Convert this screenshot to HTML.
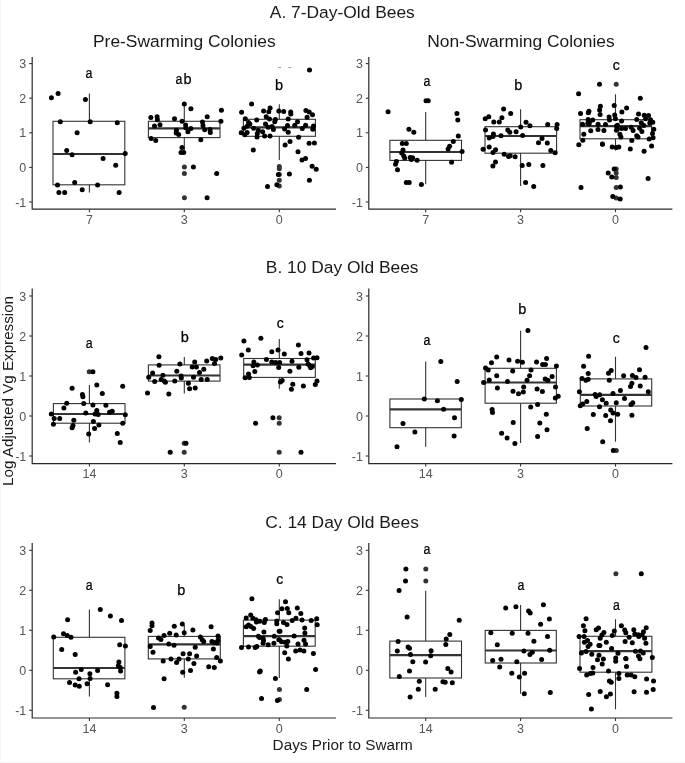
<!DOCTYPE html>
<html><head><meta charset="utf-8"><style>
html,body{margin:0;padding:0;background:#fff;overflow:hidden;width:685px;height:763px;}
svg{display:block;font-family:"Liberation Sans",sans-serif;}
svg{will-change:transform;}
</style></head><body>
<svg width="685" height="763" viewBox="0 0 685 763">
<rect x="0" y="0" width="685" height="763" fill="#fff"/>
<text x="269.8" y="18.4" font-size="17.4" text-anchor="start" fill="#1a1a1a" >A. 7-Day-Old Bees</text>
<text x="265.8" y="272.8" font-size="17.4" text-anchor="start" fill="#1a1a1a" >B. 10 Day Old Bees</text>
<text x="265.2" y="527.8" font-size="17.4" text-anchor="start" fill="#1a1a1a" >C. 14 Day Old Bees</text>
<text x="93" y="46.9" font-size="17.4" text-anchor="start" fill="#1a1a1a" >Pre-Swarming Colonies</text>
<text x="427.2" y="46.7" font-size="17.4" text-anchor="start" fill="#1a1a1a" >Non-Swarming Colonies</text>
<text x="272.6" y="750.2" font-size="15.3" text-anchor="start" fill="#1a1a1a" >Days Prior to Swarm</text>
<text transform="translate(13.0,485.9) rotate(-90)" font-size="15.2" fill="#1a1a1a">Log Adjusted Vg Expression</text>
<path d="M32.2 57V209.2H336" fill="none" stroke="#2a2a2a" stroke-width="1.2"/>
<path d="M29.200000000000003 63.6H32.2" stroke="#333" stroke-width="1.1"/>
<text x="26.300000000000004" y="68.1" font-size="12.5" text-anchor="end" fill="#555" >3</text>
<path d="M29.200000000000003 98.2H32.2" stroke="#333" stroke-width="1.1"/>
<text x="26.300000000000004" y="102.7" font-size="12.5" text-anchor="end" fill="#555" >2</text>
<path d="M29.200000000000003 132.8H32.2" stroke="#333" stroke-width="1.1"/>
<text x="26.300000000000004" y="137.3" font-size="12.5" text-anchor="end" fill="#555" >1</text>
<path d="M29.200000000000003 167.4H32.2" stroke="#333" stroke-width="1.1"/>
<text x="26.300000000000004" y="171.9" font-size="12.5" text-anchor="end" fill="#555" >0</text>
<path d="M29.200000000000003 202.0H32.2" stroke="#333" stroke-width="1.1"/>
<text x="26.300000000000004" y="206.5" font-size="12.5" text-anchor="end" fill="#555" >-1</text>
<path d="M89.4 209.2V212.2" stroke="#333" stroke-width="1.1"/>
<text x="89.4" y="224.0" font-size="12.5" text-anchor="middle" fill="#555" >7</text>
<path d="M184.3 209.2V212.2" stroke="#333" stroke-width="1.1"/>
<text x="184.3" y="224.0" font-size="12.5" text-anchor="middle" fill="#555" >3</text>
<path d="M279.3 209.2V212.2" stroke="#333" stroke-width="1.1"/>
<text x="279.3" y="224.0" font-size="12.5" text-anchor="middle" fill="#555" >0</text>
<path d="M368.8 57V209.2H672.4" fill="none" stroke="#2a2a2a" stroke-width="1.2"/>
<path d="M365.8 63.6H368.8" stroke="#333" stroke-width="1.1"/>
<text x="362.90000000000003" y="68.1" font-size="12.5" text-anchor="end" fill="#555" >3</text>
<path d="M365.8 98.2H368.8" stroke="#333" stroke-width="1.1"/>
<text x="362.90000000000003" y="102.7" font-size="12.5" text-anchor="end" fill="#555" >2</text>
<path d="M365.8 132.8H368.8" stroke="#333" stroke-width="1.1"/>
<text x="362.90000000000003" y="137.3" font-size="12.5" text-anchor="end" fill="#555" >1</text>
<path d="M365.8 167.4H368.8" stroke="#333" stroke-width="1.1"/>
<text x="362.90000000000003" y="171.9" font-size="12.5" text-anchor="end" fill="#555" >0</text>
<path d="M365.8 202.0H368.8" stroke="#333" stroke-width="1.1"/>
<text x="362.90000000000003" y="206.5" font-size="12.5" text-anchor="end" fill="#555" >-1</text>
<path d="M425.7 209.2V212.2" stroke="#333" stroke-width="1.1"/>
<text x="425.7" y="224.0" font-size="12.5" text-anchor="middle" fill="#555" >7</text>
<path d="M520.6 209.2V212.2" stroke="#333" stroke-width="1.1"/>
<text x="520.6" y="224.0" font-size="12.5" text-anchor="middle" fill="#555" >3</text>
<path d="M615.5 209.2V212.2" stroke="#333" stroke-width="1.1"/>
<text x="615.5" y="224.0" font-size="12.5" text-anchor="middle" fill="#555" >0</text>
<path d="M32.2 288.6V463.6H336" fill="none" stroke="#2a2a2a" stroke-width="1.2"/>
<path d="M29.200000000000003 296.0H32.2" stroke="#333" stroke-width="1.1"/>
<text x="26.300000000000004" y="300.5" font-size="12.5" text-anchor="end" fill="#555" >3</text>
<path d="M29.200000000000003 336.0H32.2" stroke="#333" stroke-width="1.1"/>
<text x="26.300000000000004" y="340.5" font-size="12.5" text-anchor="end" fill="#555" >2</text>
<path d="M29.200000000000003 376.0H32.2" stroke="#333" stroke-width="1.1"/>
<text x="26.300000000000004" y="380.5" font-size="12.5" text-anchor="end" fill="#555" >1</text>
<path d="M29.200000000000003 416.0H32.2" stroke="#333" stroke-width="1.1"/>
<text x="26.300000000000004" y="420.5" font-size="12.5" text-anchor="end" fill="#555" >0</text>
<path d="M29.200000000000003 456.0H32.2" stroke="#333" stroke-width="1.1"/>
<text x="26.300000000000004" y="460.5" font-size="12.5" text-anchor="end" fill="#555" >-1</text>
<path d="M89.4 463.6V466.6" stroke="#333" stroke-width="1.1"/>
<text x="89.4" y="478.40000000000003" font-size="12.5" text-anchor="middle" fill="#555" >14</text>
<path d="M184.3 463.6V466.6" stroke="#333" stroke-width="1.1"/>
<text x="184.3" y="478.40000000000003" font-size="12.5" text-anchor="middle" fill="#555" >3</text>
<path d="M279.3 463.6V466.6" stroke="#333" stroke-width="1.1"/>
<text x="279.3" y="478.40000000000003" font-size="12.5" text-anchor="middle" fill="#555" >0</text>
<path d="M368.8 288.6V463.6H672.4" fill="none" stroke="#2a2a2a" stroke-width="1.2"/>
<path d="M365.8 296.0H368.8" stroke="#333" stroke-width="1.1"/>
<text x="362.90000000000003" y="300.5" font-size="12.5" text-anchor="end" fill="#555" >3</text>
<path d="M365.8 336.0H368.8" stroke="#333" stroke-width="1.1"/>
<text x="362.90000000000003" y="340.5" font-size="12.5" text-anchor="end" fill="#555" >2</text>
<path d="M365.8 376.0H368.8" stroke="#333" stroke-width="1.1"/>
<text x="362.90000000000003" y="380.5" font-size="12.5" text-anchor="end" fill="#555" >1</text>
<path d="M365.8 416.0H368.8" stroke="#333" stroke-width="1.1"/>
<text x="362.90000000000003" y="420.5" font-size="12.5" text-anchor="end" fill="#555" >0</text>
<path d="M365.8 456.0H368.8" stroke="#333" stroke-width="1.1"/>
<text x="362.90000000000003" y="460.5" font-size="12.5" text-anchor="end" fill="#555" >-1</text>
<path d="M425.7 463.6V466.6" stroke="#333" stroke-width="1.1"/>
<text x="425.7" y="478.40000000000003" font-size="12.5" text-anchor="middle" fill="#555" >14</text>
<path d="M520.6 463.6V466.6" stroke="#333" stroke-width="1.1"/>
<text x="520.6" y="478.40000000000003" font-size="12.5" text-anchor="middle" fill="#555" >3</text>
<path d="M615.5 463.6V466.6" stroke="#333" stroke-width="1.1"/>
<text x="615.5" y="478.40000000000003" font-size="12.5" text-anchor="middle" fill="#555" >0</text>
<path d="M32.2 543V718H336" fill="none" stroke="#2a2a2a" stroke-width="1.2"/>
<path d="M29.200000000000003 550.3H32.2" stroke="#333" stroke-width="1.1"/>
<text x="26.300000000000004" y="554.8" font-size="12.5" text-anchor="end" fill="#555" >3</text>
<path d="M29.200000000000003 590.3H32.2" stroke="#333" stroke-width="1.1"/>
<text x="26.300000000000004" y="594.8" font-size="12.5" text-anchor="end" fill="#555" >2</text>
<path d="M29.200000000000003 630.3H32.2" stroke="#333" stroke-width="1.1"/>
<text x="26.300000000000004" y="634.8" font-size="12.5" text-anchor="end" fill="#555" >1</text>
<path d="M29.200000000000003 670.3H32.2" stroke="#333" stroke-width="1.1"/>
<text x="26.300000000000004" y="674.8" font-size="12.5" text-anchor="end" fill="#555" >0</text>
<path d="M29.200000000000003 710.3H32.2" stroke="#333" stroke-width="1.1"/>
<text x="26.300000000000004" y="714.8" font-size="12.5" text-anchor="end" fill="#555" >-1</text>
<path d="M89.4 718V721" stroke="#333" stroke-width="1.1"/>
<text x="89.4" y="732.8" font-size="12.5" text-anchor="middle" fill="#555" >14</text>
<path d="M184.3 718V721" stroke="#333" stroke-width="1.1"/>
<text x="184.3" y="732.8" font-size="12.5" text-anchor="middle" fill="#555" >3</text>
<path d="M279.3 718V721" stroke="#333" stroke-width="1.1"/>
<text x="279.3" y="732.8" font-size="12.5" text-anchor="middle" fill="#555" >0</text>
<path d="M368.8 543V718H672.4" fill="none" stroke="#2a2a2a" stroke-width="1.2"/>
<path d="M365.8 550.3H368.8" stroke="#333" stroke-width="1.1"/>
<text x="362.90000000000003" y="554.8" font-size="12.5" text-anchor="end" fill="#555" >3</text>
<path d="M365.8 590.3H368.8" stroke="#333" stroke-width="1.1"/>
<text x="362.90000000000003" y="594.8" font-size="12.5" text-anchor="end" fill="#555" >2</text>
<path d="M365.8 630.3H368.8" stroke="#333" stroke-width="1.1"/>
<text x="362.90000000000003" y="634.8" font-size="12.5" text-anchor="end" fill="#555" >1</text>
<path d="M365.8 670.3H368.8" stroke="#333" stroke-width="1.1"/>
<text x="362.90000000000003" y="674.8" font-size="12.5" text-anchor="end" fill="#555" >0</text>
<path d="M365.8 710.3H368.8" stroke="#333" stroke-width="1.1"/>
<text x="362.90000000000003" y="714.8" font-size="12.5" text-anchor="end" fill="#555" >-1</text>
<path d="M425.7 718V721" stroke="#333" stroke-width="1.1"/>
<text x="425.7" y="732.8" font-size="12.5" text-anchor="middle" fill="#555" >14</text>
<path d="M520.6 718V721" stroke="#333" stroke-width="1.1"/>
<text x="520.6" y="732.8" font-size="12.5" text-anchor="middle" fill="#555" >3</text>
<path d="M615.5 718V721" stroke="#333" stroke-width="1.1"/>
<text x="615.5" y="732.8" font-size="12.5" text-anchor="middle" fill="#555" >0</text>
<path d="M89.4 93.4V121.3M89.4 184.8V192.4" stroke="#333" stroke-width="1.1"/>
<rect x="53" y="121.3" width="71.8" height="63.500000000000014" fill="none" stroke="#333" stroke-width="1.1"/>
<path d="M53 154H124.8" stroke="#333" stroke-width="2.2"/>
<circle cx="51.4" cy="97.8" r="2.5" fill="#000"/>
<circle cx="58.1" cy="93.4" r="2.5" fill="#000"/>
<circle cx="85.4" cy="99.4" r="2.5" fill="#000"/>
<circle cx="60.3" cy="121.7" r="2.5" fill="#000"/>
<circle cx="90.2" cy="121.7" r="2.5" fill="#000"/>
<circle cx="117.3" cy="122.7" r="2.5" fill="#000"/>
<circle cx="77.1" cy="132.7" r="2.5" fill="#000"/>
<circle cx="66.7" cy="150.6" r="2.5" fill="#000"/>
<circle cx="72.1" cy="154.8" r="2.5" fill="#000"/>
<circle cx="125.2" cy="153.4" r="2.5" fill="#000"/>
<circle cx="103.1" cy="158.6" r="2.5" fill="#000"/>
<circle cx="115.7" cy="165.3" r="2.5" fill="#000"/>
<circle cx="57.5" cy="185" r="2.5" fill="#000"/>
<circle cx="74.7" cy="182.4" r="2.5" fill="#000"/>
<circle cx="97.6" cy="185" r="2.5" fill="#000"/>
<circle cx="58.9" cy="192.4" r="2.5" fill="#000"/>
<circle cx="64.7" cy="192.4" r="2.5" fill="#000"/>
<circle cx="82.2" cy="189.8" r="2.5" fill="#000"/>
<circle cx="119.1" cy="192.4" r="2.5" fill="#000"/>
<text transform="translate(89.00,78.4) scale(0.85,1)" font-size="14.5" text-anchor="middle" fill="#000" stroke="#000" stroke-width="0.25">a</text>
<path d="M184.3 103.8V121.3M184.3 137.6V150.6" stroke="#333" stroke-width="1.1"/>
<rect x="148.4" y="121.3" width="71.6" height="16.299999999999997" fill="none" stroke="#333" stroke-width="1.1"/>
<path d="M148.4 128.3H220" stroke="#333" stroke-width="2.2"/>
<circle cx="184.4" cy="166.9" r="2.5" fill="#333"/>
<circle cx="184.4" cy="173.5" r="2.5" fill="#333"/>
<circle cx="184.4" cy="197.8" r="2.5" fill="#333"/>
<circle cx="184.3" cy="103.9" r="2.5" fill="#000"/>
<circle cx="190.9" cy="108.8" r="2.5" fill="#000"/>
<circle cx="221.4" cy="110.2" r="2.5" fill="#000"/>
<circle cx="150.8" cy="117.6" r="2.5" fill="#000"/>
<circle cx="157.1" cy="116.7" r="2.5" fill="#000"/>
<circle cx="157.4" cy="119.7" r="2.5" fill="#000"/>
<circle cx="174.5" cy="118.7" r="2.5" fill="#000"/>
<circle cx="207.2" cy="116.7" r="2.5" fill="#000"/>
<circle cx="220.9" cy="121.3" r="2.5" fill="#000"/>
<circle cx="182.1" cy="121.3" r="2.5" fill="#000"/>
<circle cx="202.5" cy="121.9" r="2.5" fill="#000"/>
<circle cx="154.5" cy="126" r="2.5" fill="#000"/>
<circle cx="160" cy="124.7" r="2.5" fill="#000"/>
<circle cx="185.6" cy="125" r="2.5" fill="#000"/>
<circle cx="203" cy="125.5" r="2.5" fill="#000"/>
<circle cx="185.9" cy="127.8" r="2.5" fill="#000"/>
<circle cx="190.9" cy="128.5" r="2.5" fill="#000"/>
<circle cx="204.7" cy="129.8" r="2.5" fill="#000"/>
<circle cx="210" cy="129.4" r="2.5" fill="#000"/>
<circle cx="176.4" cy="130.2" r="2.5" fill="#000"/>
<circle cx="187.9" cy="131.8" r="2.5" fill="#000"/>
<circle cx="176.2" cy="133.1" r="2.5" fill="#000"/>
<circle cx="178.7" cy="134.4" r="2.5" fill="#000"/>
<circle cx="210.3" cy="132.4" r="2.5" fill="#000"/>
<circle cx="151.1" cy="138.6" r="2.5" fill="#000"/>
<circle cx="155.7" cy="140.6" r="2.5" fill="#000"/>
<circle cx="200.8" cy="139.7" r="2.5" fill="#000"/>
<circle cx="182" cy="147.6" r="2.5" fill="#000"/>
<circle cx="181" cy="152.4" r="2.5" fill="#000"/>
<circle cx="183.7" cy="152.4" r="2.5" fill="#000"/>
<circle cx="193.4" cy="166.9" r="2.5" fill="#000"/>
<circle cx="216.7" cy="173.5" r="2.5" fill="#000"/>
<circle cx="207.1" cy="197.8" r="2.5" fill="#000"/>
<text transform="translate(178.95,83.8) scale(0.85,1)" font-size="14.5" text-anchor="middle" fill="#000" stroke="#000" stroke-width="0.25">a</text>
<text transform="translate(187.50,83.8) scale(1.0,1)" font-size="14.5" text-anchor="middle" fill="#000" stroke="#000" stroke-width="0.25">b</text>
<path d="M279.3 104.2V119.3M279.3 136.3V160" stroke="#333" stroke-width="1.1"/>
<rect x="243.4" y="119.3" width="71.99999999999997" height="17.000000000000014" fill="none" stroke="#333" stroke-width="1.1"/>
<path d="M243.4 127.3H315.4" stroke="#333" stroke-width="2.2"/>
<circle cx="279.3" cy="166.5" r="2.5" fill="#333"/>
<circle cx="279.3" cy="168.7" r="2.5" fill="#333"/>
<circle cx="279.3" cy="174.5" r="2.5" fill="#333"/>
<circle cx="279.3" cy="180.3" r="2.5" fill="#333"/>
<circle cx="279.3" cy="186" r="2.5" fill="#333"/>
<circle cx="309.5" cy="69.9" r="2.5" fill="#000"/>
<circle cx="251.6" cy="104" r="2.5" fill="#000"/>
<circle cx="241.6" cy="112.3" r="2.5" fill="#000"/>
<circle cx="263.6" cy="111" r="2.5" fill="#000"/>
<circle cx="270.1" cy="108" r="2.5" fill="#000"/>
<circle cx="268.8" cy="111.8" r="2.5" fill="#000"/>
<circle cx="278.8" cy="111" r="2.5" fill="#000"/>
<circle cx="245.3" cy="118.7" r="2.5" fill="#000"/>
<circle cx="256.7" cy="120" r="2.5" fill="#000"/>
<circle cx="266.2" cy="116.7" r="2.5" fill="#000"/>
<circle cx="269.5" cy="119" r="2.5" fill="#000"/>
<circle cx="275.4" cy="119.4" r="2.5" fill="#000"/>
<circle cx="274.7" cy="121.7" r="2.5" fill="#000"/>
<circle cx="248.5" cy="122.6" r="2.5" fill="#000"/>
<circle cx="249.8" cy="124" r="2.5" fill="#000"/>
<circle cx="265.5" cy="124" r="2.5" fill="#000"/>
<circle cx="247.1" cy="126.3" r="2.5" fill="#000"/>
<circle cx="243.9" cy="128.2" r="2.5" fill="#000"/>
<circle cx="253.7" cy="128.2" r="2.5" fill="#000"/>
<circle cx="268.2" cy="127.2" r="2.5" fill="#000"/>
<circle cx="272.1" cy="126.6" r="2.5" fill="#000"/>
<circle cx="273.4" cy="129.5" r="2.5" fill="#000"/>
<circle cx="241.2" cy="132.8" r="2.5" fill="#000"/>
<circle cx="244.8" cy="134.8" r="2.5" fill="#000"/>
<circle cx="247.1" cy="132.5" r="2.5" fill="#000"/>
<circle cx="258.3" cy="130.2" r="2.5" fill="#000"/>
<circle cx="257.3" cy="133.5" r="2.5" fill="#000"/>
<circle cx="262.6" cy="131.8" r="2.5" fill="#000"/>
<circle cx="257" cy="137.1" r="2.5" fill="#000"/>
<circle cx="264.6" cy="136.1" r="2.5" fill="#000"/>
<circle cx="270" cy="136.1" r="2.5" fill="#000"/>
<circle cx="283.7" cy="111.5" r="2.5" fill="#000"/>
<circle cx="290.7" cy="112.1" r="2.5" fill="#000"/>
<circle cx="290.8" cy="114.1" r="2.5" fill="#000"/>
<circle cx="305.9" cy="110.5" r="2.5" fill="#000"/>
<circle cx="309.2" cy="112.1" r="2.5" fill="#000"/>
<circle cx="312.5" cy="114.8" r="2.5" fill="#000"/>
<circle cx="307.1" cy="117.2" r="2.5" fill="#000"/>
<circle cx="288.2" cy="118.9" r="2.5" fill="#000"/>
<circle cx="297.5" cy="121.7" r="2.5" fill="#000"/>
<circle cx="294.8" cy="125.3" r="2.5" fill="#000"/>
<circle cx="287.5" cy="125.6" r="2.5" fill="#000"/>
<circle cx="284.6" cy="128.9" r="2.5" fill="#000"/>
<circle cx="288.2" cy="132.2" r="2.5" fill="#000"/>
<circle cx="302.3" cy="128.6" r="2.5" fill="#000"/>
<circle cx="305.6" cy="125.3" r="2.5" fill="#000"/>
<circle cx="313.5" cy="125.9" r="2.5" fill="#000"/>
<circle cx="312.8" cy="129.2" r="2.5" fill="#000"/>
<circle cx="298.6" cy="137.3" r="2.5" fill="#000"/>
<circle cx="290" cy="141.6" r="2.5" fill="#000"/>
<circle cx="309.1" cy="143.3" r="2.5" fill="#000"/>
<circle cx="314.4" cy="143.1" r="2.5" fill="#000"/>
<circle cx="253.3" cy="150" r="2.5" fill="#000"/>
<circle cx="285.1" cy="145.1" r="2.5" fill="#000"/>
<circle cx="298" cy="151.7" r="2.5" fill="#000"/>
<circle cx="302" cy="160" r="2.5" fill="#000"/>
<circle cx="305.5" cy="158.4" r="2.5" fill="#000"/>
<circle cx="312.1" cy="166.3" r="2.5" fill="#000"/>
<circle cx="316.2" cy="169.3" r="2.5" fill="#000"/>
<circle cx="289.4" cy="173.9" r="2.5" fill="#000"/>
<circle cx="309.4" cy="180.2" r="2.5" fill="#000"/>
<circle cx="267.5" cy="186.5" r="2.5" fill="#000"/>
<circle cx="278.4" cy="174.5" r="2.5" fill="#000"/>
<circle cx="276.9" cy="184.8" r="2.5" fill="#000"/>
<text transform="translate(279.00,89.8) scale(1.0,1)" font-size="14.5" text-anchor="middle" fill="#000" stroke="#000" stroke-width="0.25">b</text>
<path d="M425.7 112.1V140.3M425.7 160.4V184.3" stroke="#333" stroke-width="1.1"/>
<rect x="389.9" y="140.3" width="71.60000000000002" height="20.099999999999994" fill="none" stroke="#333" stroke-width="1.1"/>
<path d="M389.9 152H461.5" stroke="#333" stroke-width="2.2"/>
<circle cx="426" cy="100.8" r="2.5" fill="#000"/>
<circle cx="428.2" cy="100.8" r="2.5" fill="#000"/>
<circle cx="388.1" cy="111.7" r="2.5" fill="#000"/>
<circle cx="456.9" cy="113.6" r="2.5" fill="#000"/>
<circle cx="457.8" cy="120" r="2.5" fill="#000"/>
<circle cx="408.9" cy="129.2" r="2.5" fill="#000"/>
<circle cx="413.8" cy="132.3" r="2.5" fill="#000"/>
<circle cx="458.3" cy="136" r="2.5" fill="#000"/>
<circle cx="453.3" cy="141.6" r="2.5" fill="#000"/>
<circle cx="402.3" cy="143.5" r="2.5" fill="#000"/>
<circle cx="406.3" cy="143.5" r="2.5" fill="#000"/>
<circle cx="449.6" cy="146.2" r="2.5" fill="#000"/>
<circle cx="448.1" cy="148.9" r="2.5" fill="#000"/>
<circle cx="403" cy="150" r="2.5" fill="#000"/>
<circle cx="462.1" cy="151.5" r="2.5" fill="#000"/>
<circle cx="401.7" cy="153.1" r="2.5" fill="#000"/>
<circle cx="403.7" cy="155.7" r="2.5" fill="#000"/>
<circle cx="404.7" cy="158.1" r="2.5" fill="#000"/>
<circle cx="410.2" cy="157.4" r="2.5" fill="#000"/>
<circle cx="412.6" cy="157.7" r="2.5" fill="#000"/>
<circle cx="411.3" cy="159.4" r="2.5" fill="#000"/>
<circle cx="417.1" cy="160.3" r="2.5" fill="#000"/>
<circle cx="396.4" cy="161.6" r="2.5" fill="#000"/>
<circle cx="395.5" cy="164.2" r="2.5" fill="#000"/>
<circle cx="451.6" cy="162.3" r="2.5" fill="#000"/>
<circle cx="397.5" cy="169.8" r="2.5" fill="#000"/>
<circle cx="406.3" cy="182.6" r="2.5" fill="#000"/>
<circle cx="409.2" cy="182.6" r="2.5" fill="#000"/>
<circle cx="421.4" cy="184.6" r="2.5" fill="#000"/>
<text transform="translate(427.00,86.1) scale(0.85,1)" font-size="14.5" text-anchor="middle" fill="#000" stroke="#000" stroke-width="0.25">a</text>
<path d="M520.6 109.2V126.7M520.6 153.2V186" stroke="#333" stroke-width="1.1"/>
<rect x="485" y="126.7" width="71.60000000000002" height="26.499999999999986" fill="none" stroke="#333" stroke-width="1.1"/>
<path d="M485 136H556.6" stroke="#333" stroke-width="2.2"/>
<circle cx="503.6" cy="108.9" r="2.5" fill="#000"/>
<circle cx="510.7" cy="113.4" r="2.5" fill="#000"/>
<circle cx="485.2" cy="118.7" r="2.5" fill="#000"/>
<circle cx="488.8" cy="116.8" r="2.5" fill="#000"/>
<circle cx="501.9" cy="117.7" r="2.5" fill="#000"/>
<circle cx="493.8" cy="122.1" r="2.5" fill="#000"/>
<circle cx="499.3" cy="122.1" r="2.5" fill="#000"/>
<circle cx="526" cy="122.3" r="2.5" fill="#000"/>
<circle cx="529.9" cy="125.8" r="2.5" fill="#000"/>
<circle cx="520.7" cy="126.9" r="2.5" fill="#000"/>
<circle cx="547.7" cy="124.6" r="2.5" fill="#000"/>
<circle cx="557.1" cy="124.6" r="2.5" fill="#000"/>
<circle cx="556.7" cy="128.6" r="2.5" fill="#000"/>
<circle cx="485.5" cy="130" r="2.5" fill="#000"/>
<circle cx="507.8" cy="130" r="2.5" fill="#000"/>
<circle cx="509.8" cy="132.2" r="2.5" fill="#000"/>
<circle cx="516.1" cy="131.8" r="2.5" fill="#000"/>
<circle cx="493.4" cy="133.9" r="2.5" fill="#000"/>
<circle cx="493" cy="136.5" r="2.5" fill="#000"/>
<circle cx="489.2" cy="138.1" r="2.5" fill="#000"/>
<circle cx="501" cy="135.7" r="2.5" fill="#000"/>
<circle cx="522.6" cy="135.5" r="2.5" fill="#000"/>
<circle cx="542" cy="138.4" r="2.5" fill="#000"/>
<circle cx="538.5" cy="142.7" r="2.5" fill="#000"/>
<circle cx="547.3" cy="143.1" r="2.5" fill="#000"/>
<circle cx="483.1" cy="149.3" r="2.5" fill="#000"/>
<circle cx="489.2" cy="147" r="2.5" fill="#000"/>
<circle cx="495.6" cy="149.7" r="2.5" fill="#000"/>
<circle cx="493" cy="152.6" r="2.5" fill="#000"/>
<circle cx="550.8" cy="150.6" r="2.5" fill="#000"/>
<circle cx="555.1" cy="152.8" r="2.5" fill="#000"/>
<circle cx="504.2" cy="154.3" r="2.5" fill="#000"/>
<circle cx="508.5" cy="156.5" r="2.5" fill="#000"/>
<circle cx="510.2" cy="155.8" r="2.5" fill="#000"/>
<circle cx="515.1" cy="156.8" r="2.5" fill="#000"/>
<circle cx="495.5" cy="161.9" r="2.5" fill="#000"/>
<circle cx="492.9" cy="166.1" r="2.5" fill="#000"/>
<circle cx="522.2" cy="165.5" r="2.5" fill="#000"/>
<circle cx="528.8" cy="164.5" r="2.5" fill="#000"/>
<circle cx="542.9" cy="165.5" r="2.5" fill="#000"/>
<circle cx="525.6" cy="182.4" r="2.5" fill="#000"/>
<circle cx="533.7" cy="186.4" r="2.5" fill="#000"/>
<text transform="translate(518.40,89.8) scale(1.0,1)" font-size="14.5" text-anchor="middle" fill="#000" stroke="#000" stroke-width="0.25">b</text>
<path d="M615.5 94.2V119.7M615.5 138.8V150.6" stroke="#333" stroke-width="1.1"/>
<rect x="580" y="119.7" width="71.60000000000002" height="19.10000000000001" fill="none" stroke="#333" stroke-width="1.1"/>
<path d="M580 126.1H651.6" stroke="#333" stroke-width="2.2"/>
<circle cx="616.2" cy="84.3" r="2.5" fill="#333"/>
<circle cx="616.2" cy="169.1" r="2.5" fill="#333"/>
<circle cx="616.2" cy="173.1" r="2.5" fill="#333"/>
<circle cx="616.2" cy="177.5" r="2.5" fill="#333"/>
<circle cx="616.2" cy="187.4" r="2.5" fill="#333"/>
<circle cx="616.2" cy="198" r="2.5" fill="#333"/>
<circle cx="599.5" cy="84.3" r="2.5" fill="#000"/>
<circle cx="578.6" cy="93.8" r="2.5" fill="#000"/>
<circle cx="640.3" cy="98.2" r="2.5" fill="#000"/>
<circle cx="614.2" cy="105.6" r="2.5" fill="#000"/>
<circle cx="600.4" cy="106.2" r="2.5" fill="#000"/>
<circle cx="626.6" cy="108.1" r="2.5" fill="#000"/>
<circle cx="599.6" cy="109.9" r="2.5" fill="#000"/>
<circle cx="621.9" cy="112" r="2.5" fill="#000"/>
<circle cx="588.9" cy="111.2" r="2.5" fill="#000"/>
<circle cx="588.4" cy="112.8" r="2.5" fill="#000"/>
<circle cx="580.5" cy="113.5" r="2.5" fill="#000"/>
<circle cx="600.1" cy="114.6" r="2.5" fill="#000"/>
<circle cx="638.5" cy="113.9" r="2.5" fill="#000"/>
<circle cx="609.1" cy="117" r="2.5" fill="#000"/>
<circle cx="609.5" cy="120" r="2.5" fill="#000"/>
<circle cx="614.7" cy="115.1" r="2.5" fill="#000"/>
<circle cx="615.4" cy="118.7" r="2.5" fill="#000"/>
<circle cx="588.1" cy="119.4" r="2.5" fill="#000"/>
<circle cx="592.7" cy="120" r="2.5" fill="#000"/>
<circle cx="589.4" cy="121.7" r="2.5" fill="#000"/>
<circle cx="587.8" cy="123.3" r="2.5" fill="#000"/>
<circle cx="582.5" cy="124.2" r="2.5" fill="#000"/>
<circle cx="589.1" cy="124" r="2.5" fill="#000"/>
<circle cx="598.1" cy="124.3" r="2.5" fill="#000"/>
<circle cx="605.5" cy="124.4" r="2.5" fill="#000"/>
<circle cx="598" cy="129.6" r="2.5" fill="#000"/>
<circle cx="590.7" cy="130.7" r="2.5" fill="#000"/>
<circle cx="603.9" cy="130.6" r="2.5" fill="#000"/>
<circle cx="616.4" cy="130.2" r="2.5" fill="#000"/>
<circle cx="616.4" cy="126" r="2.5" fill="#000"/>
<circle cx="583.8" cy="134.3" r="2.5" fill="#000"/>
<circle cx="582.8" cy="140.2" r="2.5" fill="#000"/>
<circle cx="578.8" cy="144.8" r="2.5" fill="#000"/>
<circle cx="602.4" cy="144" r="2.5" fill="#000"/>
<circle cx="644.2" cy="115.2" r="2.5" fill="#000"/>
<circle cx="648.5" cy="115.4" r="2.5" fill="#000"/>
<circle cx="645.6" cy="118.7" r="2.5" fill="#000"/>
<circle cx="650.5" cy="119.7" r="2.5" fill="#000"/>
<circle cx="636.7" cy="119.6" r="2.5" fill="#000"/>
<circle cx="621.6" cy="121" r="2.5" fill="#000"/>
<circle cx="652.8" cy="122.3" r="2.5" fill="#000"/>
<circle cx="641.3" cy="122.7" r="2.5" fill="#000"/>
<circle cx="649.8" cy="123" r="2.5" fill="#000"/>
<circle cx="643.9" cy="125.6" r="2.5" fill="#000"/>
<circle cx="617.6" cy="125.3" r="2.5" fill="#000"/>
<circle cx="617.3" cy="128.9" r="2.5" fill="#000"/>
<circle cx="621.6" cy="128.6" r="2.5" fill="#000"/>
<circle cx="625.5" cy="128.6" r="2.5" fill="#000"/>
<circle cx="631.1" cy="127.3" r="2.5" fill="#000"/>
<circle cx="633.1" cy="130.6" r="2.5" fill="#000"/>
<circle cx="639.6" cy="128.3" r="2.5" fill="#000"/>
<circle cx="641.9" cy="131.5" r="2.5" fill="#000"/>
<circle cx="653.8" cy="129.2" r="2.5" fill="#000"/>
<circle cx="652.5" cy="133.5" r="2.5" fill="#000"/>
<circle cx="619.9" cy="134.2" r="2.5" fill="#000"/>
<circle cx="620.9" cy="137.1" r="2.5" fill="#000"/>
<circle cx="636.7" cy="135.8" r="2.5" fill="#000"/>
<circle cx="638" cy="137.1" r="2.5" fill="#000"/>
<circle cx="653.1" cy="137.8" r="2.5" fill="#000"/>
<circle cx="649.2" cy="139.1" r="2.5" fill="#000"/>
<circle cx="631.8" cy="140.4" r="2.5" fill="#000"/>
<circle cx="602.5" cy="144.2" r="2.5" fill="#000"/>
<circle cx="612.2" cy="147" r="2.5" fill="#000"/>
<circle cx="616.2" cy="147.6" r="2.5" fill="#000"/>
<circle cx="618.8" cy="147" r="2.5" fill="#000"/>
<circle cx="630.3" cy="149" r="2.5" fill="#000"/>
<circle cx="644.1" cy="151.2" r="2.5" fill="#000"/>
<circle cx="651.6" cy="146" r="2.5" fill="#000"/>
<circle cx="614.2" cy="169.1" r="2.5" fill="#000"/>
<circle cx="608.2" cy="173.1" r="2.5" fill="#000"/>
<circle cx="611.8" cy="176.9" r="2.5" fill="#000"/>
<circle cx="648.1" cy="178.5" r="2.5" fill="#000"/>
<circle cx="581" cy="187.4" r="2.5" fill="#000"/>
<circle cx="620.4" cy="187" r="2.5" fill="#000"/>
<circle cx="612.8" cy="196.4" r="2.5" fill="#000"/>
<circle cx="620.2" cy="199" r="2.5" fill="#000"/>
<text transform="translate(616.20,69.5) scale(0.97,1)" font-size="14.5" text-anchor="middle" fill="#000" stroke="#000" stroke-width="0.25">c</text>
<path d="M89.4 384.9V403.6M89.4 423.2V442.5" stroke="#333" stroke-width="1.1"/>
<rect x="53.4" y="403.6" width="71.6" height="19.599999999999966" fill="none" stroke="#333" stroke-width="1.1"/>
<path d="M53.4 414H125" stroke="#333" stroke-width="2.2"/>
<circle cx="89.2" cy="371.8" r="2.5" fill="#333"/>
<circle cx="92.9" cy="371.8" r="2.5" fill="#000"/>
<circle cx="96.8" cy="384.9" r="2.5" fill="#000"/>
<circle cx="122.7" cy="386.2" r="2.5" fill="#000"/>
<circle cx="72.1" cy="388.3" r="2.5" fill="#000"/>
<circle cx="102.3" cy="393.4" r="2.5" fill="#000"/>
<circle cx="82.4" cy="394.4" r="2.5" fill="#000"/>
<circle cx="82.9" cy="396.8" r="2.5" fill="#000"/>
<circle cx="66.7" cy="403.3" r="2.5" fill="#000"/>
<circle cx="63.9" cy="407.9" r="2.5" fill="#000"/>
<circle cx="83.7" cy="403.6" r="2.5" fill="#000"/>
<circle cx="92.9" cy="405" r="2.5" fill="#000"/>
<circle cx="105.9" cy="405.3" r="2.5" fill="#000"/>
<circle cx="96.8" cy="410.6" r="2.5" fill="#000"/>
<circle cx="109.6" cy="412.3" r="2.5" fill="#000"/>
<circle cx="112.2" cy="411.3" r="2.5" fill="#000"/>
<circle cx="85.8" cy="413" r="2.5" fill="#000"/>
<circle cx="51.3" cy="414" r="2.5" fill="#000"/>
<circle cx="95.1" cy="413.9" r="2.5" fill="#000"/>
<circle cx="98.2" cy="414.4" r="2.5" fill="#000"/>
<circle cx="125.3" cy="414.7" r="2.5" fill="#000"/>
<circle cx="54.2" cy="418.6" r="2.5" fill="#000"/>
<circle cx="59.7" cy="418.6" r="2.5" fill="#000"/>
<circle cx="73.8" cy="420.3" r="2.5" fill="#000"/>
<circle cx="93.4" cy="421.5" r="2.5" fill="#000"/>
<circle cx="53.4" cy="424.3" r="2.5" fill="#000"/>
<circle cx="73" cy="425.4" r="2.5" fill="#000"/>
<circle cx="72.1" cy="427.7" r="2.5" fill="#000"/>
<circle cx="98.9" cy="425.1" r="2.5" fill="#000"/>
<circle cx="94.6" cy="428.5" r="2.5" fill="#000"/>
<circle cx="122.7" cy="423.2" r="2.5" fill="#000"/>
<circle cx="88.7" cy="434" r="2.5" fill="#000"/>
<circle cx="117.3" cy="433.6" r="2.5" fill="#000"/>
<circle cx="120.2" cy="442.5" r="2.5" fill="#000"/>
<text transform="translate(89.20,348.1) scale(0.85,1)" font-size="14.5" text-anchor="middle" fill="#000" stroke="#000" stroke-width="0.25">a</text>
<path d="M184.3 356.9V364.9M184.3 381.1V393.4" stroke="#333" stroke-width="1.1"/>
<rect x="148.4" y="364.9" width="71.6" height="16.200000000000045" fill="none" stroke="#333" stroke-width="1.1"/>
<path d="M148.4 375.5H220" stroke="#333" stroke-width="2.2"/>
<circle cx="184.2" cy="443.3" r="2.5" fill="#333"/>
<circle cx="184.2" cy="452.2" r="2.5" fill="#333"/>
<circle cx="158.9" cy="356.8" r="2.5" fill="#000"/>
<circle cx="159.1" cy="365.3" r="2.5" fill="#000"/>
<circle cx="179.9" cy="364.1" r="2.5" fill="#000"/>
<circle cx="194.7" cy="361.9" r="2.5" fill="#000"/>
<circle cx="192.2" cy="367" r="2.5" fill="#000"/>
<circle cx="196.4" cy="367" r="2.5" fill="#000"/>
<circle cx="206.7" cy="361" r="2.5" fill="#000"/>
<circle cx="212.3" cy="358.6" r="2.5" fill="#000"/>
<circle cx="215.7" cy="359.5" r="2.5" fill="#000"/>
<circle cx="220.8" cy="358.1" r="2.5" fill="#000"/>
<circle cx="214.5" cy="363.6" r="2.5" fill="#000"/>
<circle cx="203.8" cy="369.2" r="2.5" fill="#000"/>
<circle cx="199.5" cy="372.6" r="2.5" fill="#000"/>
<circle cx="176.8" cy="371.2" r="2.5" fill="#000"/>
<circle cx="152.6" cy="373.1" r="2.5" fill="#000"/>
<circle cx="162.9" cy="375.2" r="2.5" fill="#000"/>
<circle cx="148.7" cy="377.2" r="2.5" fill="#000"/>
<circle cx="181.1" cy="376" r="2.5" fill="#000"/>
<circle cx="181.3" cy="378.1" r="2.5" fill="#000"/>
<circle cx="193.5" cy="377.2" r="2.5" fill="#000"/>
<circle cx="161.2" cy="379.4" r="2.5" fill="#000"/>
<circle cx="154.7" cy="381.6" r="2.5" fill="#000"/>
<circle cx="164.2" cy="381.1" r="2.5" fill="#000"/>
<circle cx="165.4" cy="382.3" r="2.5" fill="#000"/>
<circle cx="174.8" cy="381.1" r="2.5" fill="#000"/>
<circle cx="201.2" cy="379.4" r="2.5" fill="#000"/>
<circle cx="207.2" cy="379.4" r="2.5" fill="#000"/>
<circle cx="188.4" cy="383.3" r="2.5" fill="#000"/>
<circle cx="189.6" cy="388.8" r="2.5" fill="#000"/>
<circle cx="195.2" cy="388" r="2.5" fill="#000"/>
<circle cx="147.5" cy="393.1" r="2.5" fill="#000"/>
<circle cx="168.8" cy="393.9" r="2.5" fill="#000"/>
<circle cx="186" cy="443.3" r="2.5" fill="#000"/>
<circle cx="170.2" cy="452.2" r="2.5" fill="#000"/>
<text transform="translate(184.70,342.4) scale(1.0,1)" font-size="14.5" text-anchor="middle" fill="#000" stroke="#000" stroke-width="0.25">b</text>
<path d="M279.3 338.9V358.5M279.3 377.4V388.8" stroke="#333" stroke-width="1.1"/>
<rect x="243.7" y="358.5" width="71.60000000000002" height="18.899999999999977" fill="none" stroke="#333" stroke-width="1.1"/>
<path d="M243.7 364.6H315.3" stroke="#333" stroke-width="2.2"/>
<circle cx="279.2" cy="417.8" r="2.5" fill="#333"/>
<circle cx="279.2" cy="423.2" r="2.5" fill="#333"/>
<circle cx="279.2" cy="452.2" r="2.5" fill="#333"/>
<circle cx="243.9" cy="341.1" r="2.5" fill="#000"/>
<circle cx="260.9" cy="338.2" r="2.5" fill="#000"/>
<circle cx="248.3" cy="350.1" r="2.5" fill="#000"/>
<circle cx="241.7" cy="355.1" r="2.5" fill="#000"/>
<circle cx="271.8" cy="351.8" r="2.5" fill="#000"/>
<circle cx="278" cy="349.9" r="2.5" fill="#000"/>
<circle cx="284.3" cy="353.9" r="2.5" fill="#000"/>
<circle cx="298.4" cy="345" r="2.5" fill="#000"/>
<circle cx="301" cy="353.5" r="2.5" fill="#000"/>
<circle cx="309" cy="353" r="2.5" fill="#000"/>
<circle cx="313.6" cy="358.1" r="2.5" fill="#000"/>
<circle cx="317" cy="357.8" r="2.5" fill="#000"/>
<circle cx="307" cy="359.8" r="2.5" fill="#000"/>
<circle cx="266.4" cy="359.5" r="2.5" fill="#000"/>
<circle cx="253.9" cy="362" r="2.5" fill="#000"/>
<circle cx="271.8" cy="361.9" r="2.5" fill="#000"/>
<circle cx="275.8" cy="362.4" r="2.5" fill="#000"/>
<circle cx="279.7" cy="362.4" r="2.5" fill="#000"/>
<circle cx="292" cy="361.2" r="2.5" fill="#000"/>
<circle cx="253.1" cy="365.8" r="2.5" fill="#000"/>
<circle cx="257.4" cy="364.9" r="2.5" fill="#000"/>
<circle cx="308.1" cy="364.1" r="2.5" fill="#000"/>
<circle cx="309.8" cy="365.8" r="2.5" fill="#000"/>
<circle cx="312.4" cy="366.6" r="2.5" fill="#000"/>
<circle cx="310.7" cy="367.8" r="2.5" fill="#000"/>
<circle cx="278.7" cy="367.5" r="2.5" fill="#000"/>
<circle cx="298.8" cy="367.2" r="2.5" fill="#000"/>
<circle cx="254.8" cy="371.4" r="2.5" fill="#000"/>
<circle cx="289.9" cy="371.2" r="2.5" fill="#000"/>
<circle cx="248.5" cy="374" r="2.5" fill="#000"/>
<circle cx="245.1" cy="377.7" r="2.5" fill="#000"/>
<circle cx="249.3" cy="377.4" r="2.5" fill="#000"/>
<circle cx="282.2" cy="380.6" r="2.5" fill="#000"/>
<circle cx="280.4" cy="382" r="2.5" fill="#000"/>
<circle cx="292.8" cy="384.2" r="2.5" fill="#000"/>
<circle cx="303.4" cy="385.9" r="2.5" fill="#000"/>
<circle cx="317" cy="381.1" r="2.5" fill="#000"/>
<circle cx="315.3" cy="384.5" r="2.5" fill="#000"/>
<circle cx="291.4" cy="389.3" r="2.5" fill="#000"/>
<circle cx="272.9" cy="417.8" r="2.5" fill="#000"/>
<circle cx="255.6" cy="423.2" r="2.5" fill="#000"/>
<circle cx="301" cy="452.2" r="2.5" fill="#000"/>
<text transform="translate(280.20,327.5) scale(0.97,1)" font-size="14.5" text-anchor="middle" fill="#000" stroke="#000" stroke-width="0.25">c</text>
<path d="M425.7 361.5V399M425.7 427.7V446.8" stroke="#333" stroke-width="1.1"/>
<rect x="389.9" y="399" width="71.40000000000003" height="28.69999999999999" fill="none" stroke="#333" stroke-width="1.1"/>
<path d="M389.9 409.3H461.3" stroke="#333" stroke-width="2.2"/>
<circle cx="440.8" cy="361.5" r="2.5" fill="#000"/>
<circle cx="457.2" cy="381.6" r="2.5" fill="#000"/>
<circle cx="424.3" cy="399" r="2.5" fill="#000"/>
<circle cx="437.4" cy="400.7" r="2.5" fill="#000"/>
<circle cx="461.3" cy="399.4" r="2.5" fill="#000"/>
<circle cx="443.6" cy="409.3" r="2.5" fill="#000"/>
<circle cx="454.5" cy="417.8" r="2.5" fill="#000"/>
<circle cx="403" cy="423.4" r="2.5" fill="#000"/>
<circle cx="414.9" cy="431.9" r="2.5" fill="#000"/>
<circle cx="454.1" cy="436" r="2.5" fill="#000"/>
<circle cx="397" cy="446.8" r="2.5" fill="#000"/>
<text transform="translate(426.90,344.5) scale(0.85,1)" font-size="14.5" text-anchor="middle" fill="#000" stroke="#000" stroke-width="0.25">a</text>
<path d="M520.6 330.7V368.3M520.6 403.2V443.1" stroke="#333" stroke-width="1.1"/>
<rect x="485.1" y="368.3" width="71.29999999999995" height="34.89999999999998" fill="none" stroke="#333" stroke-width="1.1"/>
<path d="M485.1 382.5H556.4" stroke="#333" stroke-width="2.2"/>
<circle cx="527.9" cy="330.5" r="2.5" fill="#000"/>
<circle cx="496.7" cy="357.1" r="2.5" fill="#000"/>
<circle cx="491.5" cy="362.8" r="2.5" fill="#000"/>
<circle cx="509" cy="359.9" r="2.5" fill="#000"/>
<circle cx="517.6" cy="361.3" r="2.5" fill="#000"/>
<circle cx="522.4" cy="362.2" r="2.5" fill="#000"/>
<circle cx="536.5" cy="361.9" r="2.5" fill="#000"/>
<circle cx="546.6" cy="358.6" r="2.5" fill="#000"/>
<circle cx="542.6" cy="364.6" r="2.5" fill="#000"/>
<circle cx="545.4" cy="364.6" r="2.5" fill="#000"/>
<circle cx="556.4" cy="365.9" r="2.5" fill="#000"/>
<circle cx="485.5" cy="368.1" r="2.5" fill="#000"/>
<circle cx="488.2" cy="370" r="2.5" fill="#000"/>
<circle cx="512.7" cy="370.9" r="2.5" fill="#000"/>
<circle cx="531" cy="370" r="2.5" fill="#000"/>
<circle cx="496.7" cy="375.7" r="2.5" fill="#000"/>
<circle cx="529.6" cy="375.7" r="2.5" fill="#000"/>
<circle cx="552.1" cy="376.4" r="2.5" fill="#000"/>
<circle cx="489.3" cy="380.1" r="2.5" fill="#000"/>
<circle cx="483.6" cy="382.5" r="2.5" fill="#000"/>
<circle cx="507.5" cy="381.5" r="2.5" fill="#000"/>
<circle cx="527" cy="380.2" r="2.5" fill="#000"/>
<circle cx="545.2" cy="379.1" r="2.5" fill="#000"/>
<circle cx="547.9" cy="380.2" r="2.5" fill="#000"/>
<circle cx="497.4" cy="388" r="2.5" fill="#000"/>
<circle cx="523.7" cy="387" r="2.5" fill="#000"/>
<circle cx="537.1" cy="388.9" r="2.5" fill="#000"/>
<circle cx="542.4" cy="391.6" r="2.5" fill="#000"/>
<circle cx="555.5" cy="387" r="2.5" fill="#000"/>
<circle cx="513" cy="391.3" r="2.5" fill="#000"/>
<circle cx="518.5" cy="393.8" r="2.5" fill="#000"/>
<circle cx="523.3" cy="392" r="2.5" fill="#000"/>
<circle cx="558.2" cy="396.2" r="2.5" fill="#000"/>
<circle cx="555.3" cy="398.1" r="2.5" fill="#000"/>
<circle cx="492.1" cy="409.5" r="2.5" fill="#000"/>
<circle cx="492.5" cy="412.4" r="2.5" fill="#000"/>
<circle cx="530.7" cy="406.9" r="2.5" fill="#000"/>
<circle cx="537.6" cy="404.5" r="2.5" fill="#000"/>
<circle cx="546.3" cy="414.2" r="2.5" fill="#000"/>
<circle cx="513.2" cy="422.5" r="2.5" fill="#000"/>
<circle cx="539.8" cy="422.9" r="2.5" fill="#000"/>
<circle cx="547" cy="429.8" r="2.5" fill="#000"/>
<circle cx="501.6" cy="433.3" r="2.5" fill="#000"/>
<circle cx="507.1" cy="437.9" r="2.5" fill="#000"/>
<circle cx="537.6" cy="436.6" r="2.5" fill="#000"/>
<circle cx="514.9" cy="443.4" r="2.5" fill="#000"/>
<text transform="translate(522.30,314.3) scale(1.0,1)" font-size="14.5" text-anchor="middle" fill="#000" stroke="#000" stroke-width="0.25">b</text>
<path d="M615.5 356.8V378.9M615.5 406V441.7" stroke="#333" stroke-width="1.1"/>
<rect x="580.3" y="378.9" width="71.40000000000009" height="27.100000000000023" fill="none" stroke="#333" stroke-width="1.1"/>
<path d="M580.3 394.8H651.7" stroke="#333" stroke-width="2.2"/>
<circle cx="616.3" cy="450.5" r="2.5" fill="#333"/>
<circle cx="646" cy="347.5" r="2.5" fill="#000"/>
<circle cx="588.6" cy="356.3" r="2.5" fill="#000"/>
<circle cx="583.6" cy="366.2" r="2.5" fill="#000"/>
<circle cx="639.5" cy="369.7" r="2.5" fill="#000"/>
<circle cx="611.2" cy="370.4" r="2.5" fill="#000"/>
<circle cx="608.5" cy="373.3" r="2.5" fill="#000"/>
<circle cx="588.2" cy="373.6" r="2.5" fill="#000"/>
<circle cx="623.6" cy="375.7" r="2.5" fill="#000"/>
<circle cx="632.4" cy="375.4" r="2.5" fill="#000"/>
<circle cx="636" cy="377.5" r="2.5" fill="#000"/>
<circle cx="645.1" cy="377.2" r="2.5" fill="#000"/>
<circle cx="582" cy="378.6" r="2.5" fill="#000"/>
<circle cx="585.9" cy="380.3" r="2.5" fill="#000"/>
<circle cx="588.2" cy="379.3" r="2.5" fill="#000"/>
<circle cx="609.3" cy="380.3" r="2.5" fill="#000"/>
<circle cx="631.9" cy="383.3" r="2.5" fill="#000"/>
<circle cx="630.5" cy="386.5" r="2.5" fill="#000"/>
<circle cx="640.2" cy="386" r="2.5" fill="#000"/>
<circle cx="620.4" cy="390.4" r="2.5" fill="#000"/>
<circle cx="579.4" cy="391.7" r="2.5" fill="#000"/>
<circle cx="648.3" cy="391.8" r="2.5" fill="#000"/>
<circle cx="595.1" cy="394.5" r="2.5" fill="#000"/>
<circle cx="596.2" cy="396.6" r="2.5" fill="#000"/>
<circle cx="599.7" cy="394.8" r="2.5" fill="#000"/>
<circle cx="613" cy="393.6" r="2.5" fill="#000"/>
<circle cx="624.5" cy="398.4" r="2.5" fill="#000"/>
<circle cx="602.4" cy="399.8" r="2.5" fill="#000"/>
<circle cx="586.8" cy="401.6" r="2.5" fill="#000"/>
<circle cx="582.7" cy="404" r="2.5" fill="#000"/>
<circle cx="580.3" cy="405.8" r="2.5" fill="#000"/>
<circle cx="606.2" cy="403.3" r="2.5" fill="#000"/>
<circle cx="616.3" cy="402.8" r="2.5" fill="#000"/>
<circle cx="632.8" cy="402.8" r="2.5" fill="#000"/>
<circle cx="631" cy="404.6" r="2.5" fill="#000"/>
<circle cx="599.5" cy="406.7" r="2.5" fill="#000"/>
<circle cx="610.7" cy="409.9" r="2.5" fill="#000"/>
<circle cx="613" cy="413" r="2.5" fill="#000"/>
<circle cx="617.7" cy="414.3" r="2.5" fill="#000"/>
<circle cx="593.3" cy="414.6" r="2.5" fill="#000"/>
<circle cx="605.7" cy="415.5" r="2.5" fill="#000"/>
<circle cx="631.9" cy="415.2" r="2.5" fill="#000"/>
<circle cx="610.5" cy="420.8" r="2.5" fill="#000"/>
<circle cx="587.2" cy="428.4" r="2.5" fill="#000"/>
<circle cx="602.7" cy="441.7" r="2.5" fill="#000"/>
<circle cx="613.3" cy="450.5" r="2.5" fill="#000"/>
<text transform="translate(616.30,342.7) scale(0.97,1)" font-size="14.5" text-anchor="middle" fill="#000" stroke="#000" stroke-width="0.25">c</text>
<path d="M89.4 609.6V637.3M89.4 678.8V696.4" stroke="#333" stroke-width="1.1"/>
<rect x="53.3" y="637.3" width="71.60000000000001" height="41.5" fill="none" stroke="#333" stroke-width="1.1"/>
<path d="M53.3 668H124.9" stroke="#333" stroke-width="2.2"/>
<circle cx="100.3" cy="609.4" r="2.5" fill="#000"/>
<circle cx="110.4" cy="616.1" r="2.5" fill="#000"/>
<circle cx="121.5" cy="620.6" r="2.5" fill="#000"/>
<circle cx="67.6" cy="619.8" r="2.5" fill="#000"/>
<circle cx="53.7" cy="636.9" r="2.5" fill="#000"/>
<circle cx="63.5" cy="633.8" r="2.5" fill="#000"/>
<circle cx="67.2" cy="635.5" r="2.5" fill="#000"/>
<circle cx="71" cy="637.3" r="2.5" fill="#000"/>
<circle cx="119.7" cy="644.7" r="2.5" fill="#000"/>
<circle cx="125.4" cy="645.9" r="2.5" fill="#000"/>
<circle cx="61.7" cy="649.4" r="2.5" fill="#000"/>
<circle cx="75.2" cy="654.6" r="2.5" fill="#000"/>
<circle cx="118.9" cy="662" r="2.5" fill="#000"/>
<circle cx="118.4" cy="665.8" r="2.5" fill="#000"/>
<circle cx="120.2" cy="667.6" r="2.5" fill="#000"/>
<circle cx="120.6" cy="671" r="2.5" fill="#000"/>
<circle cx="81.2" cy="669.5" r="2.5" fill="#000"/>
<circle cx="75.6" cy="672.3" r="2.5" fill="#000"/>
<circle cx="97.6" cy="670.4" r="2.5" fill="#000"/>
<circle cx="89.9" cy="673.8" r="2.5" fill="#000"/>
<circle cx="79" cy="678.8" r="2.5" fill="#000"/>
<circle cx="90.1" cy="678.4" r="2.5" fill="#000"/>
<circle cx="69.5" cy="682.5" r="2.5" fill="#000"/>
<circle cx="75.2" cy="684.9" r="2.5" fill="#000"/>
<circle cx="79.3" cy="686.2" r="2.5" fill="#000"/>
<circle cx="87.1" cy="683.8" r="2.5" fill="#000"/>
<circle cx="107.6" cy="684.7" r="2.5" fill="#000"/>
<circle cx="116.9" cy="693.3" r="2.5" fill="#000"/>
<circle cx="116.9" cy="696.4" r="2.5" fill="#000"/>
<text transform="translate(89.20,590.0) scale(0.85,1)" font-size="14.5" text-anchor="middle" fill="#000" stroke="#000" stroke-width="0.25">a</text>
<path d="M184.3 624.9V636.4M184.3 658.9V677.8" stroke="#333" stroke-width="1.1"/>
<rect x="148.3" y="636.4" width="72.0" height="22.5" fill="none" stroke="#333" stroke-width="1.1"/>
<path d="M148.3 644.4H220.3" stroke="#333" stroke-width="2.2"/>
<circle cx="184.2" cy="707.2" r="2.5" fill="#333"/>
<circle cx="152" cy="623" r="2.5" fill="#000"/>
<circle cx="152" cy="625.8" r="2.5" fill="#000"/>
<circle cx="150.2" cy="630.4" r="2.5" fill="#000"/>
<circle cx="174.3" cy="626.3" r="2.5" fill="#000"/>
<circle cx="182.3" cy="623.9" r="2.5" fill="#000"/>
<circle cx="184.2" cy="632.8" r="2.5" fill="#000"/>
<circle cx="192.9" cy="630.1" r="2.5" fill="#000"/>
<circle cx="211.1" cy="626.7" r="2.5" fill="#000"/>
<circle cx="169.7" cy="633.2" r="2.5" fill="#000"/>
<circle cx="164.1" cy="635.5" r="2.5" fill="#000"/>
<circle cx="158.5" cy="637.9" r="2.5" fill="#000"/>
<circle cx="160.9" cy="639.4" r="2.5" fill="#000"/>
<circle cx="176.2" cy="635.1" r="2.5" fill="#000"/>
<circle cx="200.4" cy="636.9" r="2.5" fill="#000"/>
<circle cx="202.2" cy="639.7" r="2.5" fill="#000"/>
<circle cx="203.7" cy="641.6" r="2.5" fill="#000"/>
<circle cx="218" cy="636" r="2.5" fill="#000"/>
<circle cx="218" cy="640.3" r="2.5" fill="#000"/>
<circle cx="217.1" cy="642.9" r="2.5" fill="#000"/>
<circle cx="211.9" cy="641.6" r="2.5" fill="#000"/>
<circle cx="214.3" cy="642.5" r="2.5" fill="#000"/>
<circle cx="150.2" cy="646.6" r="2.5" fill="#000"/>
<circle cx="168.8" cy="644" r="2.5" fill="#000"/>
<circle cx="174" cy="645.3" r="2.5" fill="#000"/>
<circle cx="195.2" cy="647.2" r="2.5" fill="#000"/>
<circle cx="213.4" cy="649" r="2.5" fill="#000"/>
<circle cx="153" cy="652.2" r="2.5" fill="#000"/>
<circle cx="183.1" cy="653.7" r="2.5" fill="#000"/>
<circle cx="189.6" cy="653.7" r="2.5" fill="#000"/>
<circle cx="196.6" cy="655.9" r="2.5" fill="#000"/>
<circle cx="188.3" cy="658.9" r="2.5" fill="#000"/>
<circle cx="179" cy="658.9" r="2.5" fill="#000"/>
<circle cx="176.6" cy="662.4" r="2.5" fill="#000"/>
<circle cx="171" cy="658.9" r="2.5" fill="#000"/>
<circle cx="163.2" cy="661.1" r="2.5" fill="#000"/>
<circle cx="216.7" cy="657.4" r="2.5" fill="#000"/>
<circle cx="220.4" cy="661.1" r="2.5" fill="#000"/>
<circle cx="193.9" cy="663.5" r="2.5" fill="#000"/>
<circle cx="208.7" cy="666.7" r="2.5" fill="#000"/>
<circle cx="214.3" cy="667.6" r="2.5" fill="#000"/>
<circle cx="190.5" cy="670.4" r="2.5" fill="#000"/>
<circle cx="182.7" cy="672.3" r="2.5" fill="#000"/>
<circle cx="164.1" cy="678.8" r="2.5" fill="#000"/>
<circle cx="153.5" cy="707.6" r="2.5" fill="#000"/>
<text transform="translate(181.40,595.2) scale(1.0,1)" font-size="14.5" text-anchor="middle" fill="#000" stroke="#000" stroke-width="0.25">b</text>
<path d="M279.3 599.2V620.1M279.3 646.2V678.1" stroke="#333" stroke-width="1.1"/>
<rect x="243.4" y="620.1" width="71.79999999999998" height="26.100000000000023" fill="none" stroke="#333" stroke-width="1.1"/>
<path d="M243.4 636.1H315.2" stroke="#333" stroke-width="2.2"/>
<circle cx="279.4" cy="689.4" r="2.5" fill="#333"/>
<circle cx="279.4" cy="699.4" r="2.5" fill="#333"/>
<circle cx="251.9" cy="598.8" r="2.5" fill="#000"/>
<circle cx="246.2" cy="618" r="2.5" fill="#000"/>
<circle cx="250.7" cy="615" r="2.5" fill="#000"/>
<circle cx="252.9" cy="618.2" r="2.5" fill="#000"/>
<circle cx="256" cy="619.8" r="2.5" fill="#000"/>
<circle cx="256.4" cy="622.1" r="2.5" fill="#000"/>
<circle cx="259.6" cy="621.3" r="2.5" fill="#000"/>
<circle cx="265.4" cy="619.4" r="2.5" fill="#000"/>
<circle cx="264.3" cy="622.4" r="2.5" fill="#000"/>
<circle cx="277.6" cy="612.7" r="2.5" fill="#000"/>
<circle cx="276.8" cy="621" r="2.5" fill="#000"/>
<circle cx="276.8" cy="623.7" r="2.5" fill="#000"/>
<circle cx="246.2" cy="626.8" r="2.5" fill="#000"/>
<circle cx="248.5" cy="625" r="2.5" fill="#000"/>
<circle cx="250.9" cy="626.4" r="2.5" fill="#000"/>
<circle cx="253.7" cy="628.4" r="2.5" fill="#000"/>
<circle cx="263.9" cy="632.1" r="2.5" fill="#000"/>
<circle cx="279.2" cy="631.2" r="2.5" fill="#000"/>
<circle cx="258.4" cy="636.3" r="2.5" fill="#000"/>
<circle cx="259.6" cy="637.5" r="2.5" fill="#000"/>
<circle cx="263.1" cy="638.6" r="2.5" fill="#000"/>
<circle cx="263.5" cy="640.6" r="2.5" fill="#000"/>
<circle cx="274.3" cy="636.3" r="2.5" fill="#000"/>
<circle cx="278.8" cy="639.8" r="2.5" fill="#000"/>
<circle cx="263.1" cy="643.3" r="2.5" fill="#000"/>
<circle cx="268.2" cy="644.7" r="2.5" fill="#000"/>
<circle cx="273.9" cy="643.3" r="2.5" fill="#000"/>
<circle cx="241.5" cy="647.5" r="2.5" fill="#000"/>
<circle cx="248.5" cy="647" r="2.5" fill="#000"/>
<circle cx="255.2" cy="647.5" r="2.5" fill="#000"/>
<circle cx="256.8" cy="646.5" r="2.5" fill="#000"/>
<circle cx="285.5" cy="601.7" r="2.5" fill="#000"/>
<circle cx="281.9" cy="608.8" r="2.5" fill="#000"/>
<circle cx="287.3" cy="608.4" r="2.5" fill="#000"/>
<circle cx="288.8" cy="612.7" r="2.5" fill="#000"/>
<circle cx="297.3" cy="608" r="2.5" fill="#000"/>
<circle cx="300.8" cy="613.5" r="2.5" fill="#000"/>
<circle cx="292.2" cy="620.6" r="2.5" fill="#000"/>
<circle cx="295.9" cy="618.2" r="2.5" fill="#000"/>
<circle cx="302" cy="620" r="2.5" fill="#000"/>
<circle cx="311.2" cy="620.6" r="2.5" fill="#000"/>
<circle cx="316.7" cy="618.7" r="2.5" fill="#000"/>
<circle cx="317.2" cy="624.7" r="2.5" fill="#000"/>
<circle cx="283.5" cy="622.5" r="2.5" fill="#000"/>
<circle cx="287" cy="624.5" r="2.5" fill="#000"/>
<circle cx="304.7" cy="628" r="2.5" fill="#000"/>
<circle cx="304.9" cy="633.1" r="2.5" fill="#000"/>
<circle cx="280" cy="631.2" r="2.5" fill="#000"/>
<circle cx="294.1" cy="636" r="2.5" fill="#000"/>
<circle cx="279.4" cy="639.8" r="2.5" fill="#000"/>
<circle cx="281.5" cy="641.8" r="2.5" fill="#000"/>
<circle cx="285.1" cy="642.2" r="2.5" fill="#000"/>
<circle cx="287.8" cy="641.5" r="2.5" fill="#000"/>
<circle cx="286.8" cy="646.1" r="2.5" fill="#000"/>
<circle cx="298" cy="644.1" r="2.5" fill="#000"/>
<circle cx="304" cy="640.2" r="2.5" fill="#000"/>
<circle cx="305.5" cy="644.1" r="2.5" fill="#000"/>
<circle cx="295.7" cy="651" r="2.5" fill="#000"/>
<circle cx="300" cy="650" r="2.5" fill="#000"/>
<circle cx="303.9" cy="651" r="2.5" fill="#000"/>
<circle cx="284.7" cy="652.8" r="2.5" fill="#000"/>
<circle cx="313.4" cy="653.6" r="2.5" fill="#000"/>
<circle cx="288.4" cy="659" r="2.5" fill="#000"/>
<circle cx="315.6" cy="669.5" r="2.5" fill="#000"/>
<circle cx="259.5" cy="671.9" r="2.5" fill="#000"/>
<circle cx="260.3" cy="671.1" r="2.5" fill="#000"/>
<circle cx="275.4" cy="678.5" r="2.5" fill="#000"/>
<circle cx="306.7" cy="689.4" r="2.5" fill="#000"/>
<circle cx="261.5" cy="698.4" r="2.5" fill="#000"/>
<circle cx="277.4" cy="700.4" r="2.5" fill="#000"/>
<text transform="translate(279.80,584.4) scale(0.97,1)" font-size="14.5" text-anchor="middle" fill="#000" stroke="#000" stroke-width="0.25">c</text>
<path d="M425.7 590.8V641.1M425.7 678V696.9" stroke="#333" stroke-width="1.1"/>
<rect x="389.8" y="641.1" width="71.69999999999999" height="36.89999999999998" fill="none" stroke="#333" stroke-width="1.1"/>
<path d="M389.8 655.2H461.5" stroke="#333" stroke-width="2.2"/>
<circle cx="425.8" cy="569.1" r="2.5" fill="#333"/>
<circle cx="425.8" cy="580.9" r="2.5" fill="#333"/>
<circle cx="405.9" cy="569.1" r="2.5" fill="#000"/>
<circle cx="405.5" cy="580.9" r="2.5" fill="#000"/>
<circle cx="399.1" cy="590.4" r="2.5" fill="#000"/>
<circle cx="407.1" cy="616.9" r="2.5" fill="#000"/>
<circle cx="459.2" cy="620.2" r="2.5" fill="#000"/>
<circle cx="449.8" cy="634.6" r="2.5" fill="#000"/>
<circle cx="446.2" cy="638.9" r="2.5" fill="#000"/>
<circle cx="445.8" cy="644.4" r="2.5" fill="#000"/>
<circle cx="398.1" cy="641.5" r="2.5" fill="#000"/>
<circle cx="397.3" cy="650.9" r="2.5" fill="#000"/>
<circle cx="408.1" cy="647" r="2.5" fill="#000"/>
<circle cx="409.5" cy="648.3" r="2.5" fill="#000"/>
<circle cx="431.1" cy="650.7" r="2.5" fill="#000"/>
<circle cx="410.5" cy="654.6" r="2.5" fill="#000"/>
<circle cx="430.7" cy="655.8" r="2.5" fill="#000"/>
<circle cx="412.8" cy="661.7" r="2.5" fill="#000"/>
<circle cx="425.6" cy="662.1" r="2.5" fill="#000"/>
<circle cx="447.8" cy="668.4" r="2.5" fill="#000"/>
<circle cx="451.1" cy="671.9" r="2.5" fill="#000"/>
<circle cx="409.5" cy="670.9" r="2.5" fill="#000"/>
<circle cx="399.3" cy="676.4" r="2.5" fill="#000"/>
<circle cx="419.3" cy="681.2" r="2.5" fill="#000"/>
<circle cx="442.9" cy="681.7" r="2.5" fill="#000"/>
<circle cx="445.2" cy="682.3" r="2.5" fill="#000"/>
<circle cx="452.3" cy="682.7" r="2.5" fill="#000"/>
<circle cx="418.3" cy="689.2" r="2.5" fill="#000"/>
<circle cx="435.2" cy="689.2" r="2.5" fill="#000"/>
<circle cx="410.1" cy="696.9" r="2.5" fill="#000"/>
<text transform="translate(427.00,553.8) scale(0.85,1)" font-size="14.5" text-anchor="middle" fill="#000" stroke="#000" stroke-width="0.25">a</text>
<path d="M520.6 605V630.4M520.6 663V693.7" stroke="#333" stroke-width="1.1"/>
<rect x="485.2" y="630.4" width="71.09999999999997" height="32.60000000000002" fill="none" stroke="#333" stroke-width="1.1"/>
<path d="M485.2 650.5H556.3" stroke="#333" stroke-width="2.2"/>
<circle cx="505.7" cy="608.1" r="2.5" fill="#000"/>
<circle cx="515.9" cy="606.8" r="2.5" fill="#000"/>
<circle cx="543.4" cy="604.8" r="2.5" fill="#000"/>
<circle cx="528.6" cy="610.9" r="2.5" fill="#000"/>
<circle cx="530.2" cy="613.1" r="2.5" fill="#000"/>
<circle cx="549.4" cy="618.9" r="2.5" fill="#000"/>
<circle cx="540.6" cy="624.3" r="2.5" fill="#000"/>
<circle cx="490.8" cy="632.8" r="2.5" fill="#000"/>
<circle cx="512.2" cy="633.2" r="2.5" fill="#000"/>
<circle cx="528" cy="633.2" r="2.5" fill="#000"/>
<circle cx="547.5" cy="636.4" r="2.5" fill="#000"/>
<circle cx="533.9" cy="641.2" r="2.5" fill="#000"/>
<circle cx="497.3" cy="644.7" r="2.5" fill="#000"/>
<circle cx="523.9" cy="650.9" r="2.5" fill="#000"/>
<circle cx="532.3" cy="652.2" r="2.5" fill="#000"/>
<circle cx="529.9" cy="654.6" r="2.5" fill="#000"/>
<circle cx="549.7" cy="650.3" r="2.5" fill="#000"/>
<circle cx="492.7" cy="660.6" r="2.5" fill="#000"/>
<circle cx="501" cy="659.3" r="2.5" fill="#000"/>
<circle cx="516.8" cy="661.7" r="2.5" fill="#000"/>
<circle cx="541.6" cy="659.6" r="2.5" fill="#000"/>
<circle cx="499.7" cy="667.1" r="2.5" fill="#000"/>
<circle cx="511.8" cy="673.2" r="2.5" fill="#000"/>
<circle cx="524.6" cy="673.2" r="2.5" fill="#000"/>
<circle cx="519.3" cy="676.9" r="2.5" fill="#000"/>
<circle cx="524.3" cy="693.7" r="2.5" fill="#000"/>
<circle cx="550.3" cy="692.4" r="2.5" fill="#000"/>
<text transform="translate(520.90,590.0) scale(0.85,1)" font-size="14.5" text-anchor="middle" fill="#000" stroke="#000" stroke-width="0.25">a</text>
<path d="M615.5 619.3V636.3M615.5 672.2V709.2" stroke="#333" stroke-width="1.1"/>
<rect x="580" y="636.3" width="71.89999999999998" height="35.90000000000009" fill="none" stroke="#333" stroke-width="1.1"/>
<path d="M580 651.1H651.9" stroke="#333" stroke-width="2.2"/>
<circle cx="615.9" cy="573.7" r="2.5" fill="#333"/>
<circle cx="641.3" cy="573.7" r="2.5" fill="#000"/>
<circle cx="586.1" cy="618.7" r="2.5" fill="#000"/>
<circle cx="583.4" cy="625.7" r="2.5" fill="#000"/>
<circle cx="584.9" cy="630.8" r="2.5" fill="#000"/>
<circle cx="579.1" cy="636.4" r="2.5" fill="#000"/>
<circle cx="584.1" cy="636.6" r="2.5" fill="#000"/>
<circle cx="596.2" cy="629.8" r="2.5" fill="#000"/>
<circle cx="598.5" cy="627.9" r="2.5" fill="#000"/>
<circle cx="603.9" cy="632.6" r="2.5" fill="#000"/>
<circle cx="601.9" cy="635.1" r="2.5" fill="#000"/>
<circle cx="600.2" cy="638.2" r="2.5" fill="#000"/>
<circle cx="614.3" cy="631.1" r="2.5" fill="#000"/>
<circle cx="612.3" cy="635.5" r="2.5" fill="#000"/>
<circle cx="587.5" cy="640.5" r="2.5" fill="#000"/>
<circle cx="584.4" cy="642.2" r="2.5" fill="#000"/>
<circle cx="590.1" cy="644.2" r="2.5" fill="#000"/>
<circle cx="588.1" cy="646.6" r="2.5" fill="#000"/>
<circle cx="606.3" cy="642.2" r="2.5" fill="#000"/>
<circle cx="598.9" cy="645.6" r="2.5" fill="#000"/>
<circle cx="599.9" cy="645.6" r="2.5" fill="#000"/>
<circle cx="611.6" cy="648.6" r="2.5" fill="#000"/>
<circle cx="581.4" cy="652.9" r="2.5" fill="#000"/>
<circle cx="586.1" cy="651.6" r="2.5" fill="#000"/>
<circle cx="591.8" cy="654.3" r="2.5" fill="#000"/>
<circle cx="599" cy="655.3" r="2.5" fill="#000"/>
<circle cx="597.5" cy="659.7" r="2.5" fill="#000"/>
<circle cx="603.4" cy="659" r="2.5" fill="#000"/>
<circle cx="602.2" cy="664" r="2.5" fill="#000"/>
<circle cx="615.7" cy="658" r="2.5" fill="#000"/>
<circle cx="615.7" cy="661.3" r="2.5" fill="#000"/>
<circle cx="621.4" cy="625.7" r="2.5" fill="#000"/>
<circle cx="624.7" cy="630.1" r="2.5" fill="#000"/>
<circle cx="625.8" cy="632.8" r="2.5" fill="#000"/>
<circle cx="629.1" cy="637.2" r="2.5" fill="#000"/>
<circle cx="633.8" cy="629.8" r="2.5" fill="#000"/>
<circle cx="634.8" cy="634.1" r="2.5" fill="#000"/>
<circle cx="638.2" cy="634.8" r="2.5" fill="#000"/>
<circle cx="638.8" cy="636.5" r="2.5" fill="#000"/>
<circle cx="646.2" cy="627.8" r="2.5" fill="#000"/>
<circle cx="643.5" cy="631.8" r="2.5" fill="#000"/>
<circle cx="642.2" cy="634.8" r="2.5" fill="#000"/>
<circle cx="644.6" cy="638.2" r="2.5" fill="#000"/>
<circle cx="625.1" cy="641.5" r="2.5" fill="#000"/>
<circle cx="632.3" cy="642.7" r="2.5" fill="#000"/>
<circle cx="645.9" cy="643.2" r="2.5" fill="#000"/>
<circle cx="618" cy="653.3" r="2.5" fill="#000"/>
<circle cx="635.5" cy="651.3" r="2.5" fill="#000"/>
<circle cx="640.5" cy="650.9" r="2.5" fill="#000"/>
<circle cx="643.2" cy="652.9" r="2.5" fill="#000"/>
<circle cx="638.5" cy="656" r="2.5" fill="#000"/>
<circle cx="639.9" cy="658.7" r="2.5" fill="#000"/>
<circle cx="625.8" cy="658.5" r="2.5" fill="#000"/>
<circle cx="652.3" cy="657.6" r="2.5" fill="#000"/>
<circle cx="625.9" cy="658.7" r="2.5" fill="#000"/>
<circle cx="579.6" cy="668.5" r="2.5" fill="#000"/>
<circle cx="593" cy="667.5" r="2.5" fill="#000"/>
<circle cx="626.5" cy="666.6" r="2.5" fill="#000"/>
<circle cx="608.5" cy="671" r="2.5" fill="#000"/>
<circle cx="586.7" cy="675" r="2.5" fill="#000"/>
<circle cx="590.4" cy="673.4" r="2.5" fill="#000"/>
<circle cx="592.8" cy="673.1" r="2.5" fill="#000"/>
<circle cx="618.9" cy="673.4" r="2.5" fill="#000"/>
<circle cx="618.9" cy="678.6" r="2.5" fill="#000"/>
<circle cx="627.2" cy="675" r="2.5" fill="#000"/>
<circle cx="631.1" cy="675" r="2.5" fill="#000"/>
<circle cx="634.8" cy="676.7" r="2.5" fill="#000"/>
<circle cx="646.6" cy="679" r="2.5" fill="#000"/>
<circle cx="653.5" cy="680.9" r="2.5" fill="#000"/>
<circle cx="609.4" cy="681" r="2.5" fill="#000"/>
<circle cx="611.2" cy="682.3" r="2.5" fill="#000"/>
<circle cx="600.2" cy="691.5" r="2.5" fill="#000"/>
<circle cx="588.7" cy="694.4" r="2.5" fill="#000"/>
<circle cx="606.4" cy="696.8" r="2.5" fill="#000"/>
<circle cx="610.4" cy="694" r="2.5" fill="#000"/>
<circle cx="634.1" cy="691.8" r="2.5" fill="#000"/>
<circle cx="646.5" cy="692.2" r="2.5" fill="#000"/>
<circle cx="653.2" cy="689.4" r="2.5" fill="#000"/>
<circle cx="591.4" cy="709.1" r="2.5" fill="#000"/>
<text transform="translate(616.30,610.4) scale(0.85,1)" font-size="14.5" text-anchor="middle" fill="#000" stroke="#000" stroke-width="0.25">a</text>
<path d="M278.1 67.6H281M288.3 67.6H291.2" stroke="#999" stroke-width="1"/>
<rect x="0" y="0" width="1" height="763" fill="#f6f6f6"/>
<rect x="0" y="762" width="685" height="1" fill="#f6f6f6"/>
</svg></body></html>
